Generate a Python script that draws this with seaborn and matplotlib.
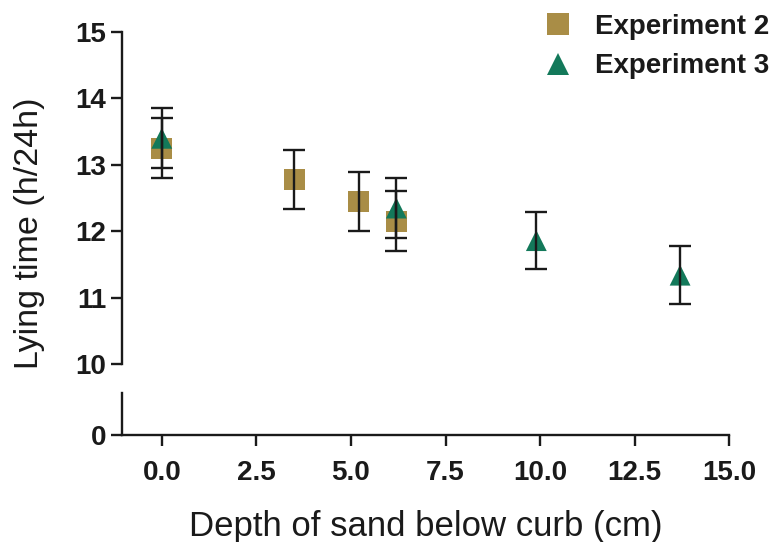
import matplotlib
matplotlib.use("Agg")
import matplotlib.pyplot as plt
import numpy as np
import pandas as pd
import seaborn as sns
from matplotlib.lines import Line2D

# ---- data ----
series = ["Experiment 2", "Experiment 3"]
exp2_depth = [0.0, 3.5, 5.2, 6.2]
exp2_lying = [13.25, 12.78, 12.45, 12.15]
exp2_err = [0.45, 0.45, 0.45, 0.45]
exp3_depth = [0.0, 6.2, 9.9, 13.7]
exp3_lying = [13.40, 12.35, 11.86, 11.34]
exp3_err = [0.45, 0.45, 0.43, 0.44]
x_ticks = [0.0, 2.5, 5.0, 7.5, 10.0, 12.5, 15.0]
x_tick_labels = ["0.0", "2.5", "5.0", "7.5", "10.0", "12.5", "15.0"]
y_ticks_upper = [10, 11, 12, 13, 14, 15]
y_ticks_lower = [0]

df = pd.DataFrame({
    "depth": exp2_depth + exp3_depth,
    "lying": exp2_lying + exp3_lying,
    "err": exp2_err + exp3_err,
    "series": [series[0]] * len(exp2_depth) + [series[1]] * len(exp3_depth),
})

sns.set_style("ticks")
plt.rcParams["font.family"] = ["Liberation Sans", "DejaVu Sans"]

colors = {series[0]: "#a98d46", series[1]: "#13795a"}
markers = {series[0]: "s", series[1]: "^"}
ink = "#1a1a1a"

fig = plt.figure(figsize=(7.75, 5.42), dpi=100)
ax_top = fig.add_axes([0.157, 0.328, 0.784, 0.613])
ax_bot = fig.add_axes([0.157, 0.197, 0.784, 0.0775])

xlim = (-1.06, 15.0)

for s in series:
    sub = df[df["series"] == s]
    ax_top.errorbar(sub["depth"], sub["lying"], yerr=sub["err"], fmt="none",
                    ecolor=ink, elinewidth=1.7, capsize=8, capthick=1.7, zorder=3)

sns.scatterplot(data=df, x="depth", y="lying", hue="series", style="series",
                palette=colors, markers=markers, s=225, linewidth=0,
                ax=ax_top, zorder=2, legend=False)

tick_font = {"weight": "bold", "size": 20}

# upper axis
ax_top.set_xlim(*xlim)
ax_top.set_ylim(10, 15)
ax_top.set_yticks(y_ticks_upper)
ax_top.set_yticklabels([str(v) for v in y_ticks_upper], fontdict=tick_font)
ax_top.set_xticks([])
for sp in ["top", "right", "bottom"]:
    ax_top.spines[sp].set_visible(False)
ax_top.spines["left"].set_linewidth(1.7)
ax_top.spines["left"].set_color(ink)
ax_top.tick_params(axis="y", length=8, width=1.7, colors=ink, pad=3)
ax_top.set_xlabel("")
ax_top.set_ylabel("")
ax_top.patch.set_alpha(0)

# lower axis
ax_bot.set_xlim(*xlim)
ax_bot.set_ylim(0, 0.63)
ax_bot.set_yticks(y_ticks_lower)
ax_bot.set_yticklabels([str(v) for v in y_ticks_lower], fontdict=tick_font)
ax_bot.set_xticks(x_ticks)
ax_bot.set_xticklabels(x_tick_labels, fontdict=tick_font)
for sp in ["top", "right"]:
    ax_bot.spines[sp].set_visible(False)
for sp in ["left", "bottom"]:
    ax_bot.spines[sp].set_linewidth(1.7)
    ax_bot.spines[sp].set_color(ink)
ax_bot.tick_params(axis="both", length=8, width=1.7, colors=ink, pad=3)
ax_bot.tick_params(axis="x", pad=10)
ax_bot.patch.set_alpha(0)
ax_bot.set_xlabel("Depth of sand below curb (cm)", fontsize=25, labelpad=17, color=ink)

fig.text(0.038, 0.57, "Lying time (h/24h)", rotation=90, fontsize=24.5,
         ha="center", va="center", color=ink)

# legend
handles = [Line2D([], [], linestyle="none", marker=markers[s], color=colors[s],
                  markersize=15.5, markeredgewidth=0) for s in series]
leg = fig.legend(handles, series, loc="upper right", bbox_to_anchor=(1.025, 1.02),
                 frameon=False, prop={"weight": "bold", "size": 20},
                 handletextpad=0.85, labelspacing=0.48, handlelength=1.0)
for t in leg.get_texts():
    t.set_color(ink)

fig.savefig("out.png", dpi=100, facecolor="white")
